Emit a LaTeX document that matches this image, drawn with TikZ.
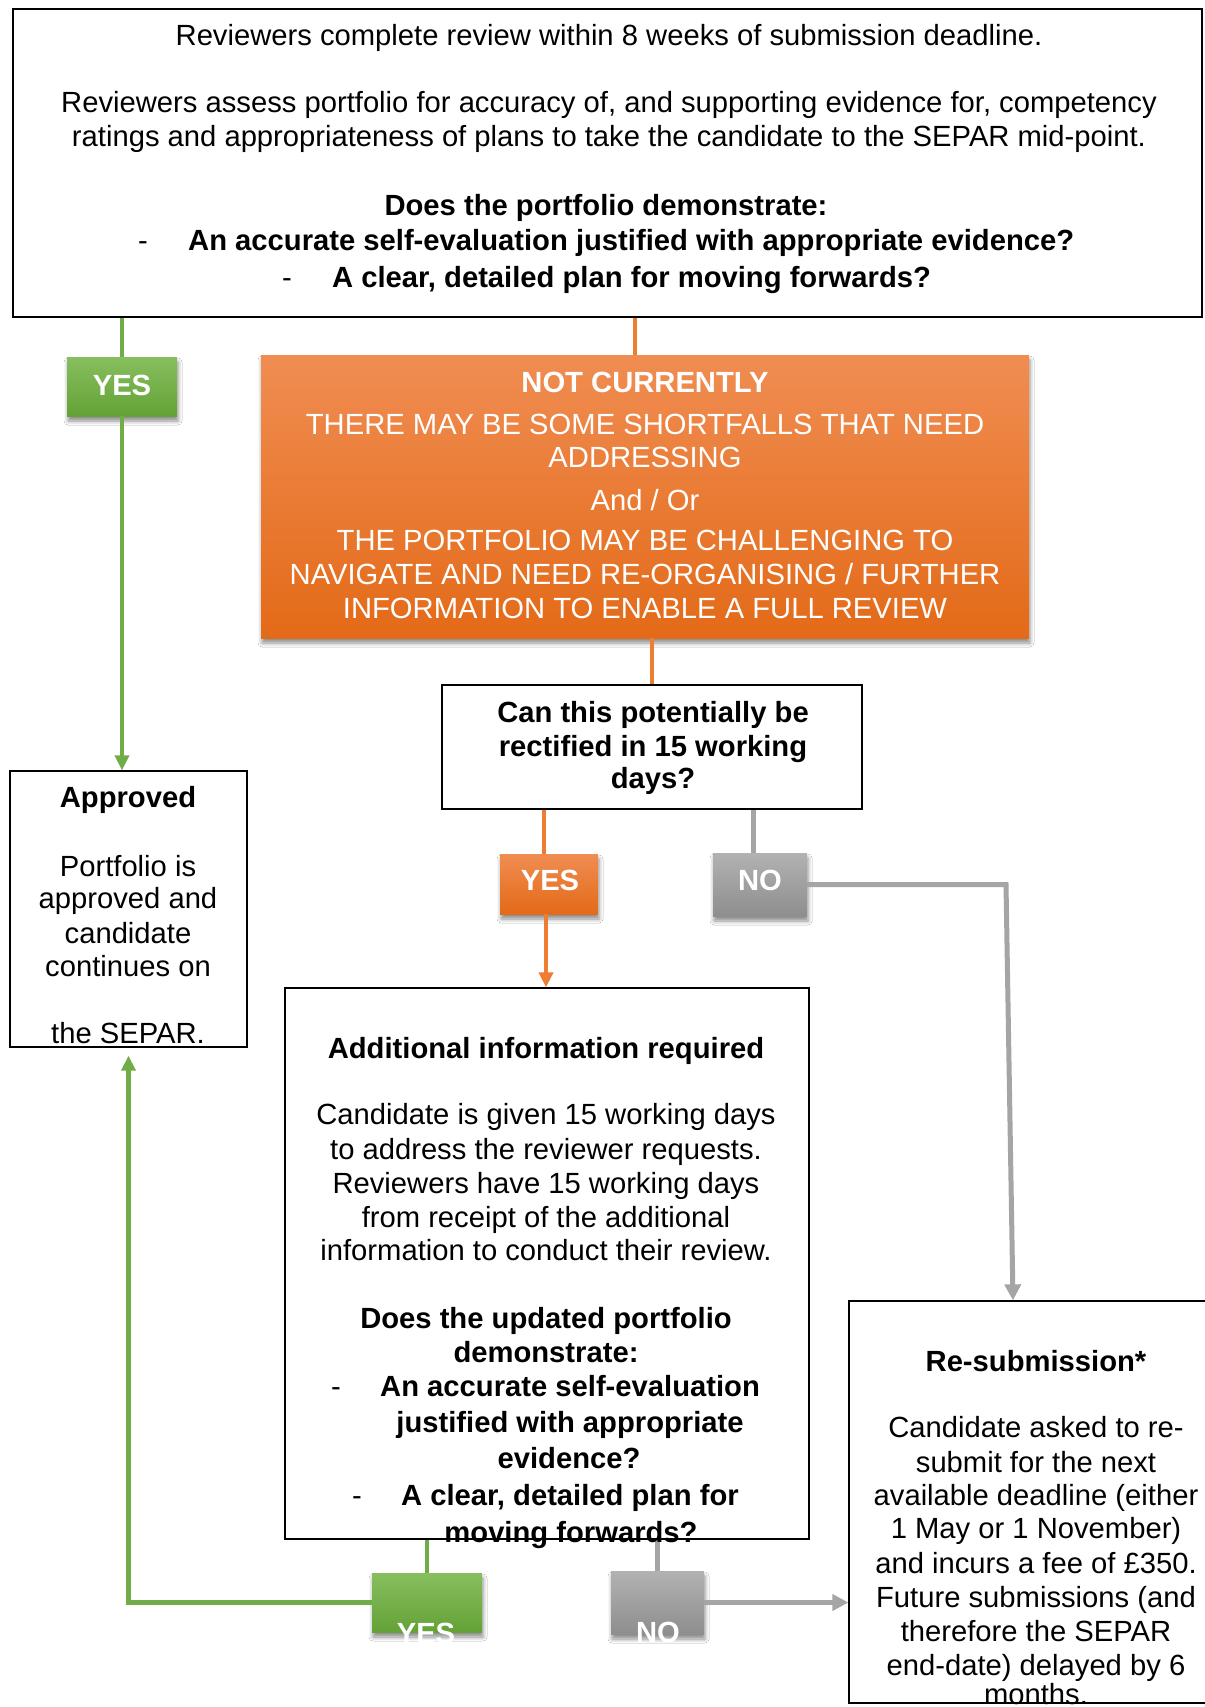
\documentclass[tikz,border=0pt]{standalone}
\usepackage{fontspec}
\setmainfont{Liberation Sans}
\usetikzlibrary{arrows.meta,shadows.blur,calc}
\definecolor{lgreen}{HTML}{70AD47}
\definecolor{greenT}{HTML}{88BE5F}
\definecolor{greenB}{HTML}{63A236}
\definecolor{lorange}{HTML}{ED7D31}
\definecolor{orangeT}{HTML}{F08D52}
\definecolor{orangeB}{HTML}{E36A18}
\definecolor{lgray}{HTML}{A5A5A5}
\definecolor{grayT}{HTML}{B2B2B2}
\definecolor{grayB}{HTML}{8E8E8E}
\begin{document}
\begin{tikzpicture}[x=1pt,y=-1pt,
  box/.style={draw=black,line width=1.3pt,rectangle,inner sep=0pt},
  shbox/.style={rectangle,inner sep=0pt,
     blur shadow={shadow xshift=1pt,shadow yshift=-5pt,shadow blur radius=4pt,shadow opacity=45}},
  greenbox/.style={shbox,top color=greenT,bottom color=greenB},
  orangebox/.style={shbox,top color=orangeT,bottom color=orangeB},
  graybox/.style={shbox,top color=grayT,bottom color=grayB},
  txt/.style={inner sep=0pt,anchor=base,font=\fontsize{29.2}{34}\selectfont},
  btxt/.style={txt,font=\fontsize{29.2}{34}\selectfont\bfseries},
  wtxt/.style={txt,text=white},
  wbtxt/.style={btxt,text=white},
  gline/.style={draw=lgreen,line width=4.5pt},
  oline/.style={draw=lorange,line width=4.5pt},
  yline/.style={draw=lgray,line width=5pt},
  garrow/.style={gline,-{Triangle[width=14pt,length=15pt]}},
  oarrow/.style={oline,-{Triangle[width=14pt,length=15pt]}},
  yarrow/.style={yline,-{Triangle[width=16pt,length=16pt]}}
]
\useasboundingbox (0,0) rectangle (1204,1707);
\fill[white] (0,0) rectangle (1204,1707);

% ---------- boxes ----------
\node[box,minimum width=1189pt,minimum height=308pt] (top) at (607.5,163) {};
\node[box,minimum width=237pt,minimum height=276pt] (approved) at (128.5,909) {};
\node[orangebox,minimum width=768pt,minimum height=283pt] (orange) at (645,496.5) {};
\node[box,minimum width=420pt,minimum height=124pt] (question) at (652,747) {};
\node[box,minimum width=524pt,minimum height=551pt] (additional) at (547,1263.5) {};
\node[box,minimum width=361pt,minimum height=402pt] (resub) at (1029.5,1502) {};

\node[greenbox,minimum width=110pt,minimum height=59pt] (yes1) at (122,386.5) {};
\node[orangebox,minimum width=98pt,minimum height=60pt] (yes2) at (549,884) {};
\node[graybox,minimum width=94pt,minimum height=63pt] (no1) at (760,884.5) {};
\node[greenbox,minimum width=110pt,minimum height=59pt] (yes3) at (427,1602.5) {};
\node[graybox,minimum width=93pt,minimum height=63pt] (no2) at (657.5,1602.5) {};

% ---------- connectors ----------
\draw[gline] (yes1.north) -- (yes1.north |- top.south);
\draw[garrow] (yes1.south) -- (yes1.south |- approved.north);
\draw[oline] ([xshift=-10pt]orange.north) -- ([xshift=-10pt]orange.north |- top.south);
\draw[oline] (question.north) -- (question.north |- orange.south);
\draw[oline] ([xshift=-5pt]yes2.north) -- ([xshift=-5pt]yes2.north |- question.south);
\draw[oarrow] ([xshift=-3pt]yes2.south) -- ([xshift=-3pt]yes2.south |- additional.north);
\draw[yline] ([xshift=-7pt]no1.north) -- ([xshift=-7pt]no1.north |- question.south);
\coordinate (c1) at (1006,884.5);
\draw[yarrow] (no1.east) -- (c1) -- ([xshift=-16.5pt]resub.north);
\draw[gline] (yes3.north) -- (yes3.north |- additional.south);
\coordinate (c3) at (yes3.west -| approved.south);
\draw[garrow,shorten >=8pt] (yes3.west) -- (c3) -- (approved.south);
\draw[yline] (no2.north) -- (no2.north |- additional.south);
\draw[yarrow] (no2.east) -- (no2.east -| resub.west);

% ---------- label texts ----------
\node[wbtxt] (l1) at (122,395) {YES};
\node[wbtxt] (l2) at (550,890) {YES};
\node[wbtxt] (l3) at (760,890) {NO};
\node[wbtxt] (l4) at (426,1643) {YES};
\node[wbtxt] (l5) at (658,1642) {NO};

% ---------- top box text ----------
\node[txt] (ta1) at (609,46) {Reviewers complete review within 8 weeks of submission deadline.};
\node[txt] (ta2) at (609,113) {Reviewers assess portfolio for accuracy of, and supporting evidence for, competency};
\node[txt] (ta3) at (609,147) {ratings and appropriateness of plans to take the candidate to the SEPAR mid-point.};
\node[btxt] (ta4) at (606,215) {Does the portfolio demonstrate:};
\node[txt] (ta5) at (143,250) {-};
\node[btxt,anchor=base west] (ta6) at (188,250) {An accurate self-evaluation justified with appropriate evidence?};
\node[txt] (ta7) at (287,287) {-};
\node[btxt,anchor=base west] (ta8) at (332,287) {A clear, detailed plan for moving forwards?};

% ---------- orange box text ----------
\node[wbtxt] (tb1) at (645,392) {NOT CURRENTLY};
\foreach \myy/\mytext [count=\i] in {434/{THERE MAY BE SOME SHORTFALLS THAT NEED},467/{ADDRESSING},510/{And / Or},550/{THE PORTFOLIO MAY BE CHALLENGING TO},584/{NAVIGATE AND NEED RE-ORGANISING / FURTHER},618/{INFORMATION TO ENABLE A FULL REVIEW}}
  \node[wtxt] (tc\i) at (645,\myy) {\mytext};

% ---------- approved ----------
\node[btxt] (td1) at (128,807) {Approved};
\foreach \myy/\mytext [count=\i] in {876/{Portfolio is},908/{approved and},943/{candidate},976/{continues on},1043/{the SEPAR.}}
  \node[txt] (te\i) at (128,\myy) {\mytext};

% ---------- question ----------
\foreach \myy/\mytext [count=\i] in {722/{Can this potentially be},756/{rectified in 15 working},788/{days?}}
  \node[btxt] (tf\i) at (653,\myy) {\mytext};

% ---------- additional ----------
\node[btxt] (tg1) at (546,1058) {Additional information required};
\foreach \myy/\mytext [count=\i] in {1124/{Candidate is given 15 working days},1159/{to address the reviewer requests.},1193/{Reviewers have 15 working days},1227/{from receipt of the additional},1260/{information to conduct their review.}}
  \node[txt] (th\i) at (546,\myy) {\mytext};
\node[btxt] (ti1) at (546,1328) {Does the updated portfolio};
\node[btxt] (ti2) at (546,1362) {demonstrate:};
\node[txt] (ti3) at (336,1396) {-};
\node[btxt,anchor=base west] (ti4) at (380,1396) {An accurate self-evaluation};
\node[btxt] (ti5) at (570,1432) {justified with appropriate};
\node[btxt] (ti6) at (569,1468) {evidence?};
\node[txt] (ti7) at (357,1505) {-};
\node[btxt,anchor=base west] (ti8) at (401,1505) {A clear, detailed plan for};
\node[btxt] (ti9) at (571,1542) {moving forwards?};

% ---------- re-submission ----------
\node[btxt] (tj1) at (1036,1371) {Re-submission*};
\foreach \myy/\mytext [count=\i] in {1437/{Candidate asked to re-},1472/{submit for the next},1505/{available deadline (either},1538/{1 May or 1 November)},1573/{and incurs a fee of £350.},1607/{Future submissions (and},1641/{therefore the SEPAR},1675/{end-date) delayed by 6},1704/{months.}}
  \node[txt] (tk\i) at (1036,\myy) {\mytext};
\end{tikzpicture}
\end{document}
